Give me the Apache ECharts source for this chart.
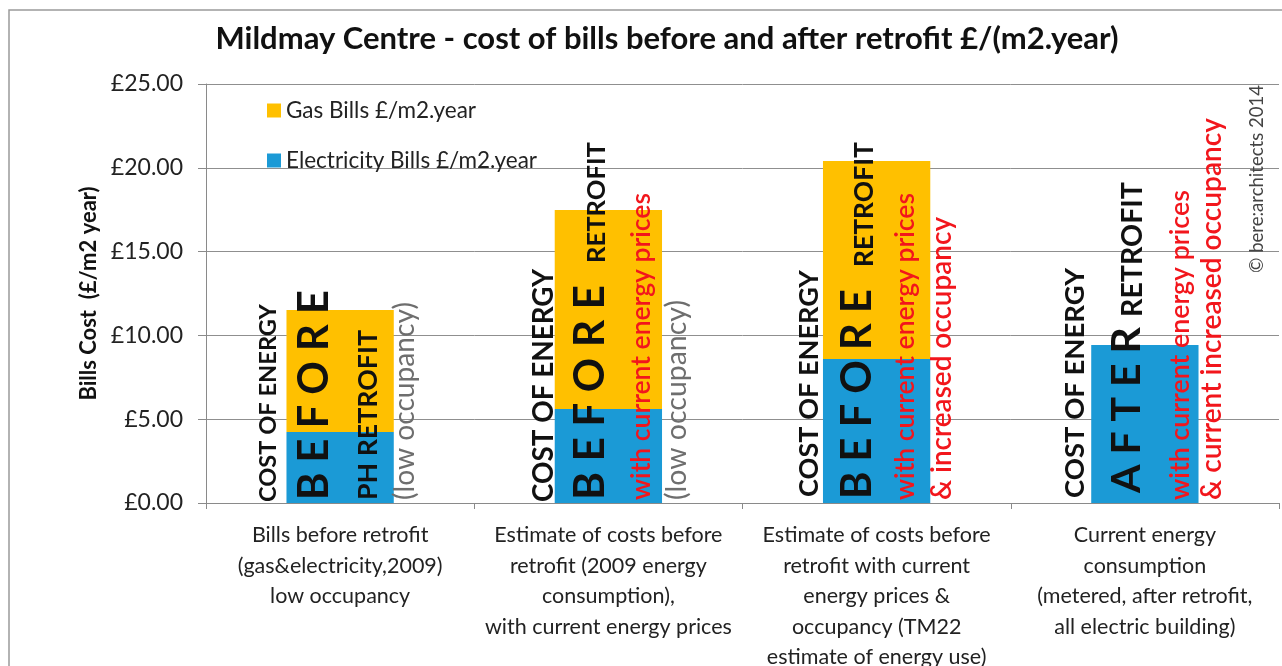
<!DOCTYPE html>
<html>
<head>
<meta charset="utf-8">
<script src="https://cdn.jsdelivr.net/npm/echarts@6/dist/echarts.min.js"></script>
<style>
  html, body { margin: 0; padding: 0; background: #ffffff; }
  #chart { width: 1282px; height: 666px; }
</style>
</head>
<body>
<div id="chart"></div>
<script>
// ---- data ----
const categories = [
  'Bills before retrofit\n(gas&electricity,2009)\nlow occupancy',
  'Estimate of costs before\nretrofit (2009 energy\nconsumption),\nwith current energy prices',
  'Estimate of costs before\nretrofit with current\nenergy prices &\noccupancy (TM22\nestimate of energy use)',
  'Current energy\nconsumption\n(metered, after retrofit,\nall electric building)'
];
const electricityBills = [4.24, 5.61, 8.59, 9.43];
const gasBills = [7.28, 11.87, 11.82, 0];
const seriesNames = ['Gas Bills £/m2.year', 'Electricity Bills £/m2.year'];
const chartTitle = 'Mildmay Centre - cost of bills before and after retrofit £/(m2.year)';
const yAxisTitle = 'Bills Cost  (£/m2 year)';
const yMin = 0, yMax = 25, yStep = 5;

// vertical captions written over each bar
const barNotes = [
  ['COST OF ENERGY', 'B E F O R E', 'PH RETROFIT', '(low occupancy)'],
  ['COST OF ENERGY', 'B E F O R E', 'RETROFIT', 'with current energy prices', '(low occupancy)'],
  ['COST OF ENERGY', 'B E F O R E', 'RETROFIT', 'with current energy prices', '& increased occupancy'],
  ['COST OF ENERGY', 'A F T E R', 'RETROFIT', 'with current energy prices', '& current increased occupancy']
];
const credit = '© bere:architects 2014';

// ---- layout & styles ----
const FONT = 'Lato, "Open Sans", sans-serif';
const GAS = '#ffc000';
const ELEC = '#1b9ad6';
const GRID_LINE = '#8f8f8f';

// caption layout per bar: [offset from bar centre (px), start above axis (px), run length (px), style]
const noteLayout = [
  [[-72, 1, 198, 'cap'], [-26, 3, 210, 'big'], [28, 3, 170, 'cap'], [65, 3, 198, 'grey']],
  [[-64, 1, 233, 'cap'], [-18, 3, 215, 'big'], [-12, 240, 121, 'cap'], [33, 3, 307, 'red'], [68, 3, 200, 'grey']],
  [[-67, 6, 227, 'cap'], [-19, 4, 210, 'big'], [-12, 236, 125, 'cap'], [29, 3, 307, 'red'], [65, 3, 283, 'red']],
  [[-70, 5, 230, 'cap'], [-18, 10, 166, 'big'], [-12, 186, 135, 'cap'], [35, 3, 310, 'red'], [67, 3, 382, 'red']]
];
const noteStyles = {
  cap:  { weight: 'bold', color: '#111111' },
  big:  { weight: 'bold', color: '#111111' },
  red:  { weight: '600',  color: '#f2161c' },
  grey: { weight: 'normal', color: '#6e6e6e' }
};
const creditLayout = { bar: 3, dx: 112, start: 230, len: 188, weight: 'normal', color: '#444444' };

const measureCtx = document.createElement('canvas').getContext('2d');
function fitSize(text, weight, length) {
  measureCtx.font = weight + ' 100px ' + FONT;
  return 100 * length / measureCtx.measureText(text).width;
}

const chart = echarts.init(document.getElementById('chart'), null, { renderer: 'canvas' });

chart.setOption({
  backgroundColor: '#ffffff',
  animation: false,
  textStyle: { fontFamily: FONT },
  title: {
    text: chartTitle,
    left: 662,
    top: 18,
    textAlign: 'center',
    textStyle: { fontFamily: FONT, fontSize: 31, fontWeight: 'bold', color: '#111111' }
  },
  legend: {
    data: seriesNames,
    orient: 'vertical',
    left: 262,
    top: 94,
    itemWidth: 14,
    itemHeight: 14,
    itemGap: 27,
    icon: 'rect',
    textStyle: { fontFamily: FONT, fontSize: 22.5, color: '#222222' }
  },
  grid: { left: 206, right: 3, top: 84, bottom: 163, containLabel: false, outerBoundsMode: 'none' },
  xAxis: {
    type: 'category',
    data: categories,
    axisLine: { lineStyle: { color: '#8a8a8a', width: 1 } },
    axisTick: { show: true, length: 6, interval: 0, lineStyle: { color: '#8a8a8a' } },
    axisLabel: {
      interval: 0, margin: 17, fontSize: 21.5, lineHeight: 30.5,
      color: '#222222', fontFamily: FONT
    }
  },
  yAxis: {
    type: 'value',
    min: yMin, max: yMax, interval: yStep,
    name: yAxisTitle,
    nameLocation: 'middle',
    nameGap: 91,
    nameRotate: 90,
    nameTextStyle: { fontFamily: FONT, fontSize: 22, fontWeight: 'bold', color: '#111111' },
    axisLine: { show: true, lineStyle: { color: '#8a8a8a', width: 1 } },
    axisTick: { show: true, length: 8, lineStyle: { color: '#8a8a8a' } },
    axisLabel: {
      margin: 23, fontSize: 23, color: '#222222', fontFamily: FONT,
      formatter: v => '£' + v.toFixed(2)
    },
    splitLine: { lineStyle: { color: GRID_LINE, width: 1 } }
  },
  series: [
    {
      name: seriesNames[1], type: 'bar', stack: 'bills',
      data: electricityBills, barWidth: '40%',
      itemStyle: { color: ELEC }
    },
    {
      name: seriesNames[0], type: 'bar', stack: 'bills',
      data: gasBills, barWidth: '40%',
      itemStyle: { color: GAS }
    }
  ]
});

function buildGraphics() {
  const els = [];
  // outer frame of the chart area
  els.push({
    type: 'polyline', silent: true, z: 1,
    shape: { points: [[9, 666], [9, 10], [1282, 10]] },
    style: { stroke: '#9a9a9a', lineWidth: 1.5, fill: null }
  });

  function vText(text, x, y, size, weight, color) {
    return {
      type: 'text', silent: true, z: 20,
      x: x, y: y, rotation: Math.PI / 2,
      style: {
        text: text, fill: color,
        font: weight + ' ' + size.toFixed(2) + 'px ' + FONT,
        align: 'left', verticalAlign: 'middle'
      }
    };
  }

  barNotes.forEach((notes, i) => {
    const p = chart.convertToPixel({ xAxisIndex: 0, yAxisIndex: 0 }, [i, 0]);
    notes.forEach((txt, j) => {
      const [dx, start, len, kind] = noteLayout[i][j];
      const st = noteStyles[kind];
      const size = fitSize(txt, st.weight, len);
      els.push(vText(txt, p[0] + dx, p[1] - start, size, st.weight, st.color));
    });
  });

  const cp = chart.convertToPixel({ xAxisIndex: 0, yAxisIndex: 0 }, [creditLayout.bar, 0]);
  els.push(vText(credit, cp[0] + creditLayout.dx, cp[1] - creditLayout.start,
    fitSize(credit, creditLayout.weight, creditLayout.len), creditLayout.weight, creditLayout.color));
  return els;
}

chart.setOption({ graphic: buildGraphics() });
</script>
</body>
</html>
